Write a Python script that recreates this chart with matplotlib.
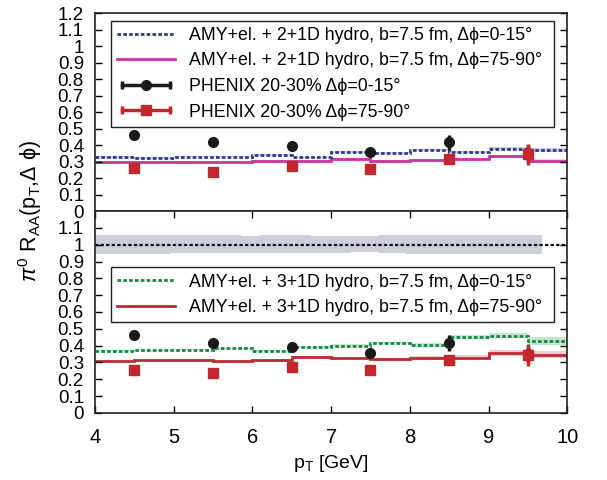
import numpy as np
import matplotlib
matplotlib.use("Agg")
import matplotlib.pyplot as plt
from matplotlib.lines import Line2D
from matplotlib.legend_handler import HandlerLine2D, HandlerTuple

plt.rcParams['font.family'] = ['Liberation Sans', 'DejaVu Sans']
plt.rcParams['mathtext.fontset'] = 'custom'
plt.rcParams['mathtext.rm'] = 'Liberation Sans'
plt.rcParams['mathtext.it'] = 'Liberation Sans:italic'

# calculation bins (pT, GeV)
edges = [4.0, 4.5, 5.0, 5.5, 6.0, 6.5, 7.0, 7.5, 8.0, 8.5, 9.0, 9.5, 10.0]

# 2+1D hydro
hyd2_in = [0.327, 0.321, 0.329, 0.329, 0.338, 0.325, 0.358, 0.350, 0.368, 0.356, 0.378, 0.370]
hyd2_in_err = [0.004, 0.004, 0.004, 0.004, 0.005, 0.005, 0.005, 0.005, 0.006, 0.006, 0.008, 0.012]
hyd2_out = [0.295, 0.295, 0.297, 0.295, 0.303, 0.303, 0.317, 0.305, 0.311, 0.317, 0.331, 0.303]
hyd2_out_err = [0.004, 0.004, 0.004, 0.004, 0.005, 0.005, 0.005, 0.006, 0.006, 0.007, 0.008, 0.01]

# 3+1D hydro
hyd3_in = [0.370, 0.374, 0.376, 0.384, 0.370, 0.394, 0.400, 0.416, 0.404, 0.450, 0.460, 0.428]
hyd3_in_err = [0.003, 0.003, 0.004, 0.004, 0.005, 0.006, 0.008, 0.008, 0.010, 0.012, 0.016, 0.022]
hyd3_out = [0.308, 0.312, 0.314, 0.306, 0.316, 0.332, 0.326, 0.318, 0.324, 0.328, 0.356, 0.346]
hyd3_out_err = [0.003, 0.003, 0.004, 0.004, 0.005, 0.006, 0.008, 0.010, 0.012, 0.014, 0.016, 0.020]

# PHENIX 20-30%
pt = [4.5, 5.5, 6.5, 7.5, 8.5, 9.5]
phx_in = [0.462, 0.416, 0.395, 0.355, 0.416, 0.350]
phx_in_err = [0.006, 0.006, 0.008, 0.01, 0.045, 0.05]
phx_out = [0.258, 0.236, 0.273, 0.254, 0.313, 0.343]
phx_out_err = [0.006, 0.006, 0.008, 0.012, 0.03, 0.065]

# normalisation uncertainty band around 1
norm_edges = [4.0, 4.95, 5.85, 6.1, 6.75, 7.25, 7.6, 7.95, 9.68]
norm_hi = [1.06, 1.06, 1.052, 1.06, 1.052, 1.052, 1.06, 1.06]
norm_lo = [0.942, 0.95, 0.95, 0.95, 0.95, 0.956, 0.95, 0.942]

c_blue = '#2b3a8f'
c_mag = '#c8359a'
c_green = '#0f8c3c'
c_red = '#be2a32'
c_dat_red = '#c1272d'

fig = plt.figure(figsize=(6.07, 4.80), dpi=100)
ax1 = fig.add_axes([0.1565, 0.5604, 0.778, 0.4125])
ax2 = fig.add_axes([0.1565, 0.1396, 0.778, 0.4208])


def band(ax, vals, errs, color, alpha):
    v = np.array(vals)
    e = np.array(errs)
    ax.stairs(v + e, edges, baseline=v - e, fill=True, color=color, alpha=alpha, lw=0)


def data(ax):
    ax.errorbar(pt, phx_in, yerr=phx_in_err, fmt='o', color='#1a1a1a', ms=7,
                elinewidth=2.5, capsize=0, zorder=5)
    ax.errorbar(pt, phx_out, yerr=phx_out_err, fmt='s', color=c_dat_red, ms=7.5,
                elinewidth=2.5, capsize=0, zorder=6)


def legend_pair(color, marker, ms):
    caps = Line2D([], [], color=color, lw=2.5, marker='|', ms=6, mew=2.5)
    mk = Line2D([], [], color=color, lw=0, marker=marker, ms=ms)
    return (caps, mk), {caps: HandlerLine2D(numpoints=2), mk: HandlerLine2D(numpoints=1)}


# top panel: 2+1D
band(ax1, hyd2_in, hyd2_in_err, '#8c9ad0', 0.45)
band(ax1, hyd2_out, hyd2_out_err, '#e3a0cf', 0.5)
ax1.stairs(hyd2_out, edges, baseline=None, color=c_mag, lw=2)
ax1.stairs(hyd2_in, edges, baseline=None, color=c_blue, lw=2, linestyle=(0, (1.3, 0.8)))
data(ax1)

h_in, m_in = legend_pair('#1a1a1a', 'o', 7)
h_out, m_out = legend_pair(c_dat_red, 's', 7.5)
hmap = {tuple: HandlerTuple(ndivide=1)}
hmap.update(m_in)
hmap.update(m_out)
handles1 = [Line2D([], [], color=c_blue, lw=2, linestyle=(0, (1.3, 0.8))),
            Line2D([], [], color=c_mag, lw=2), h_in, h_out]
labels1 = ['AMY+el. + 2+1D hydro, b=7.5 fm, Δϕ=0-15°',
           'AMY+el. + 2+1D hydro, b=7.5 fm, Δϕ=75-90°',
           'PHENIX 20-30% Δϕ=0-15°',
           'PHENIX 20-30% Δϕ=75-90°']
leg1 = ax1.legend(handles1, labels1, handler_map=hmap, loc='upper left',
                  bbox_to_anchor=(0.033, 0.961, 0.939, 0.0), mode='expand',
                  fontsize=12.8, frameon=True, fancybox=False, edgecolor='#222222',
                  framealpha=1, handlelength=3.3, handletextpad=0.75,
                  labelspacing=0.48, borderpad=0.35, borderaxespad=0)
leg1.get_frame().set_linewidth(1.0)

# bottom panel: 3+1D
ax2.stairs(norm_hi, norm_edges, baseline=norm_lo, fill=True, color='#cdd0da', lw=0)
ax2.axhline(1.0, color='#111111', lw=1.6, linestyle=(0, (1.5, 1)))
band(ax2, hyd3_in, hyd3_in_err, '#8fcca6', 0.5)
band(ax2, hyd3_out, hyd3_out_err, '#e6a3a8', 0.55)
ax2.stairs(hyd3_out, edges, baseline=None, color=c_red, lw=2)
ax2.stairs(hyd3_in, edges, baseline=None, color=c_green, lw=2, linestyle=(0, (1.3, 0.8)))
data(ax2)

handles2 = [Line2D([], [], color=c_green, lw=2, linestyle=(0, (1.3, 0.8))),
            Line2D([], [], color=c_red, lw=2)]
labels2 = ['AMY+el. + 3+1D hydro, b=7.5 fm, Δϕ=0-15°',
           'AMY+el. + 3+1D hydro, b=7.5 fm, Δϕ=75-90°']
leg2 = ax2.legend(handles2, labels2, loc='upper left',
                  bbox_to_anchor=(0.033, 0.721, 0.939, 0.0), mode='expand',
                  fontsize=12.8, frameon=True, fancybox=False, edgecolor='#222222',
                  framealpha=1, handlelength=3.3, handletextpad=0.75,
                  labelspacing=0.48, borderpad=0.35, borderaxespad=0)
leg2.get_frame().set_linewidth(1.0)

for ax in (ax1, ax2):
    ax.set_xlim(4, 10)
    ax.set_ylim(0, 1.2)
    ax.tick_params(direction='in', length=5, width=1, labelsize=14.5, pad=8,
                   left=True, right=True, top=True, bottom=True)
    ax.tick_params(axis='y', labelsize=13.5)
    for s in ax.spines.values():
        s.set_linewidth(1.2)
        s.set_color('#222222')

yt = [0, 0.1, 0.2, 0.3, 0.4, 0.5, 0.6, 0.7, 0.8, 0.9, 1, 1.1, 1.2]
ax1.set_yticks(yt)
ax1.set_yticklabels(['0', '0.1', '0.2', '0.3', '0.4', '0.5', '0.6', '0.7', '0.8',
                     '0.9', '1', '1.1', '1.2'])
ax1.set_xticks([4, 5, 6, 7, 8, 9, 10])
ax1.tick_params(axis='x', top=False, bottom=False, labelbottom=False)
ax2.set_yticks(yt[:-1])
ax2.set_yticklabels(['0', '0.1', '0.2', '0.3', '0.4', '0.5', '0.6', '0.7', '0.8',
                     '0.9', '1', '1.1'])
ax2.set_xticks([4, 5, 6, 7, 8, 9, 10])
ax2.tick_params(axis='x', pad=11)
ax2.set_xlabel(r'p$_{\rm T}$ [GeV]', fontsize=14, labelpad=4)

fig.text(0.05, 0.5604, r'$\pi^0$ R$_{\rm AA}$(p$_{\rm T}$,Δ ϕ)', rotation=90,
         ha='center', va='center', fontsize=15.5)

fig.savefig('out.png', dpi=100)
